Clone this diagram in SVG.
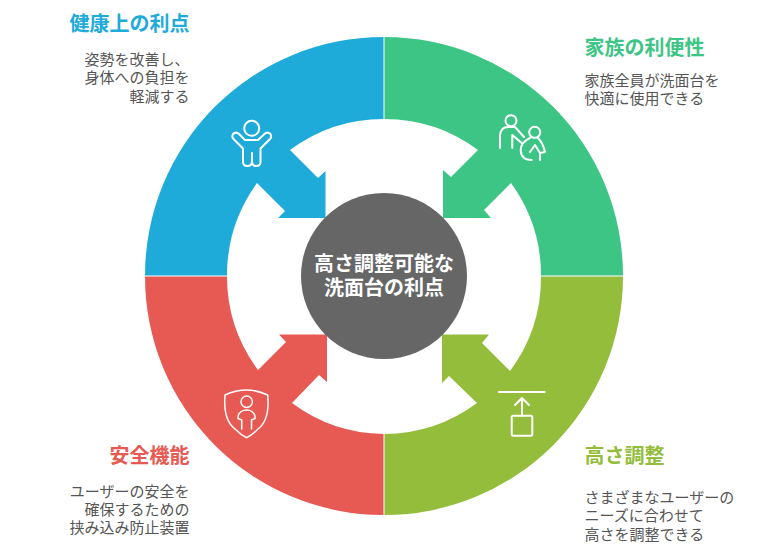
<svg xmlns="http://www.w3.org/2000/svg" width="774" height="550" viewBox="0 0 774 550">
<style>
text{font-family:"Noto Sans CJK JP","Noto Sans",sans-serif}
.t{font-size:20px;font-weight:700}
.b{font-size:15px;fill:#555}
.c{font-size:20px;font-weight:700;fill:#fff;text-anchor:middle}
.e{text-anchor:end}
.i{fill:none;stroke:#fff;stroke-width:2;stroke-linecap:round;stroke-linejoin:round}
</style>
<rect width="774" height="550" fill="#fff"/>
<g id="connectors">
<path fill="#1eabda" d="M383.5,37A238.5,238.5 0 0 0 145,275.5L227,275.5A157,157 0 0 1 257,183L285,211L278,218L325.5,218L325.5,171L318,178L290,150A157,157 0 0 1 383.5,119Z"/>
<path fill="#3dc585" d="M384.5,37A238.5,238.5 0 0 1 623,275.5L541,275.5A157,157 0 0 0 511,183L484,210L491,218L443,218L443,170L451,177L478,150A157,157 0 0 0 384.5,119Z"/>
<path fill="#93bd3a" d="M623,276.5A238.5,238.5 0 0 1 384.5,515L384.5,434A157,157 0 0 0 477,403L449,376L442,383L442,334.5L489,334.5L482,343L510,371A157,157 0 0 0 541,276.5Z"/>
<path fill="#e75a54" d="M145,276.5A238.5,238.5 0 0 0 383.5,515L383.5,434A157,157 0 0 1 292,403L319,375L327,382L327,334.5L279,334.5L286,342L258,370A157,157 0 0 1 227,276.5Z"/>
</g>
<g id="center">
<circle cx="384" cy="276" r="83" fill="#666"/>
<text class="c" x="384" y="271">高さ調整可能な</text>
<text class="c" x="384" y="295">洗面台の利点</text>
</g>
<g id="node-health">
<text class="t e" x="189.500" y="30.500" fill="#1eabda">健康上の利点</text>
<text class="b e" x="189.500" y="65">姿勢を改善し、</text>
<text class="b e" x="189.500" y="83">身体への負担を</text>
<text class="b e" x="189.500" y="101.500">軽減する</text>
<g class="i"><circle cx="251.700" cy="128.300" r="7.500"/><path d="M245,140H258L265,133.500Q268,131.500 270.500,134Q272,137 270,139L260.500,148.500V162Q260.500,166 256,166Q252,166 252,161V153V161Q252,166 247.500,166Q243,166 243,162V148.500L233.500,139Q231.500,137 233,134Q235.500,131.500 238.500,133.500Z"/></g>
</g>
<g id="node-family">
<text class="t" x="584.500" y="54.500" fill="#3dc585">家族の利便性</text>
<text class="b" x="584.500" y="86">家族全員が洗面台を</text>
<text class="b" x="584.500" y="104">快適に使用できる</text>
<g class="i"><circle cx="511" cy="120.700" r="5.500"/><circle cx="534.700" cy="132.300" r="5.500"/><path d="M500,148V135Q501,127 508,127H515L524,137M512.300,148V135L521.700,143"/><path d="M530,138Q521,142 520.700,150Q521,160 531.700,160M538,138Q543,143 545,152L540,153V160M530,152L535,145L540,153"/></g>
</g>
<g id="node-height">
<text class="t" x="584.500" y="463" fill="#93bd3a">高さ調整</text>
<text class="b" x="584.500" y="503">さまざまなユーザーの</text>
<text class="b" x="584.500" y="521">ニーズに合わせて</text>
<text class="b" x="584.500" y="539.500">高さを調整できる</text>
<g class="i"><path d="M499,392H544.700M522,415.700V398M515,405L522,398L529,405"/><rect x="511.700" y="415.700" width="20.600" height="20" rx="1.500"/></g>
</g>
<g id="node-safety">
<text class="t e" x="189.500" y="463" fill="#e75a54">安全機能</text>
<text class="b e" x="189.500" y="497">ユーザーの安全を</text>
<text class="b e" x="189.500" y="514.500">確保するための</text>
<text class="b e" x="189.500" y="533">挟み込み防止装置</text>
<g class="i" style="stroke-width:1.500"><path d="M225,395Q246.700,385 267.700,395Q270,420 258,429Q252,435 246.700,437.700Q241,435 235,429Q223,420 225,395Z"/><circle cx="246.700" cy="401.700" r="5.700"/><path d="M241.700,429V420L238,418.500V416Q240,410 246.700,410Q253,410 255,416V418.500L251.500,420V429"/></g>
</g>
</svg>
